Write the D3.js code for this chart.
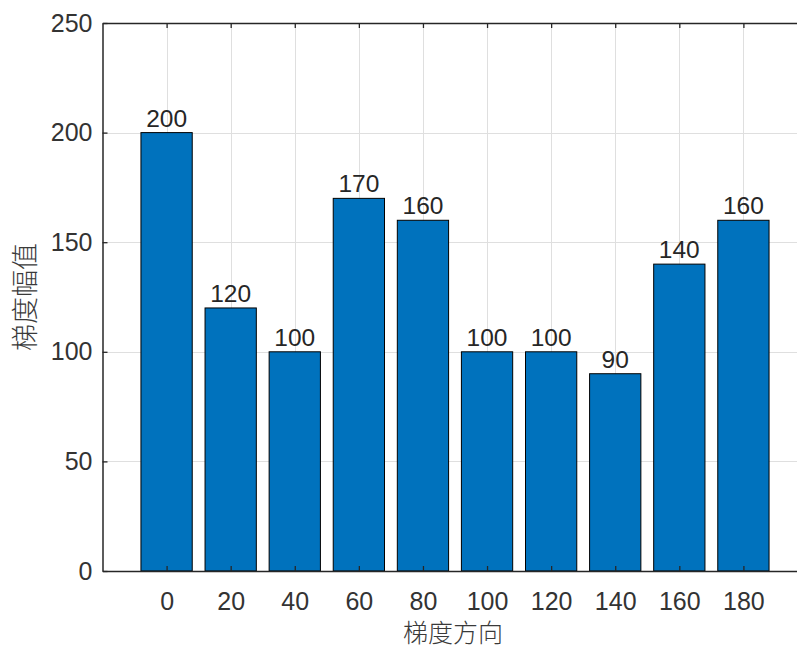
<!DOCTYPE html>
<html><head><meta charset="utf-8">
<script src="https://cdn.jsdelivr.net/npm/d3@7"></script>
<style>body{margin:0;background:#fff}svg{display:block}</style>
</head><body>
<script>
const categories = [0, 20, 40, 60, 80, 100, 120, 140, 160, 180];
const values = [200, 120, 100, 170, 160, 100, 100, 90, 140, 160];
const yTicks = [0, 50, 100, 150, 200, 250];
const xLabel = "梯度方向";
const yLabel = "梯度幅值";

(function () {
const W = 797, H = 648;
const svg = d3.select("body").append("svg").attr("width", W).attr("height", H);
const pLeft = 102.5, pTop = 23, pBottom = 571, pRight = 807.5;
const x = d3.scaleLinear().domain([-20, 200]).range([pLeft, pRight]);
const y = d3.scaleLinear().domain([0, 250]).range([pBottom, pTop]);
const axisColor = "#262626";
const font = "'Liberation Sans', Arial, sans-serif";
const cjk = "'Noto Sans CJK SC', sans-serif";

// grid
const grid = svg.append("g");
grid.selectAll(".vg").data(categories).join("line")
  .attr("x1", d => Math.round(x(d)) + 0.5).attr("x2", d => Math.round(x(d)) + 0.5)
  .attr("y1", pTop).attr("y2", pBottom).attr("stroke", "#dfdfdf").attr("stroke-width", 1);
grid.selectAll(".hg").data(yTicks.filter(d => d > 0)).join("line")
  .attr("y1", d => Math.round(y(d)) + 0.5).attr("y2", d => Math.round(y(d)) + 0.5)
  .attr("x1", pLeft).attr("x2", pRight).attr("stroke", "#dfdfdf").attr("stroke-width", 1);

// bars
const step = x(20) - x(0);
const bw = step * 0.8;
svg.selectAll(".bar").data(values).join("rect")
  .attr("x", (d, i) => x(categories[i]) - bw / 2)
  .attr("width", bw)
  .attr("y", d => y(d))
  .attr("height", d => y(0) - y(d))
  .attr("fill", "#0072BD").attr("stroke", "#000").attr("stroke-width", 1);

// bar labels
svg.selectAll(".bl").data(values).join("text")
  .attr("x", (d, i) => x(categories[i]))
  .attr("y", d => y(d) - 6)
  .attr("text-anchor", "middle")
  .attr("font-family", font).attr("font-size", 24.5).attr("fill", "#262626")
  .text(d => d);

function style(g) {
  g.attr("font-size", 25).attr("font-family", font);
  g.select(".domain").attr("stroke", axisColor).attr("stroke-width", 1.5);
  g.selectAll(".tick line").attr("stroke", axisColor).attr("stroke-width", 1.3);
  g.selectAll(".tick text").attr("fill", "#333").attr("font-family", font).attr("font-size", 25);
}

// bottom axis (ticks inside)
svg.append("g").attr("transform", `translate(0,${pBottom})`)
  .call(d3.axisBottom(x).tickValues(categories).tickSizeInner(-5).tickSizeOuter(0).tickPadding(21))
  .call(style);
// top axis line with inside ticks, no labels
svg.append("g").attr("transform", `translate(0,${pTop})`)
  .call(d3.axisTop(x).tickValues(categories).tickSizeInner(-5).tickSizeOuter(0).tickFormat(""))
  .call(style);
// left axis
svg.append("g").attr("transform", `translate(${pLeft},0)`)
  .call(d3.axisLeft(y).tickValues(yTicks).tickSizeInner(-5).tickSizeOuter(0).tickPadding(10))
  .call(style);

// axis titles
svg.append("text").attr("x", 453).attr("y", 642)
  .attr("text-anchor", "middle").attr("font-family", cjk).attr("font-size", 25)
  .attr("font-weight", 300).attr("fill", "#3a3a3a").text(xLabel);
svg.append("text").attr("transform", `translate(35,${(pTop + pBottom) / 2}) rotate(-90)`)
  .attr("text-anchor", "middle").attr("font-family", cjk).attr("font-size", 27)
  .attr("font-weight", 300).attr("fill", "#3a3a3a").text(yLabel);
})();
</script>
</body></html>
